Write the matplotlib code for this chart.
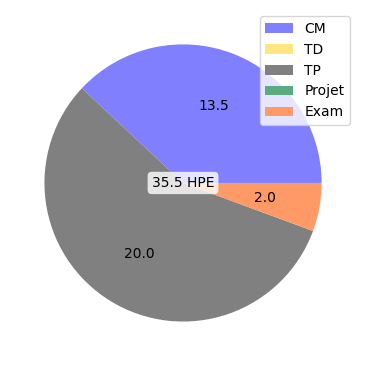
import matplotlib
matplotlib.use("Agg")
import matplotlib.pyplot as plt

# hours per type of teaching
labels = ["CM", "TD", "TP", "Projet", "Exam"]
hours = [13.5, 0.0, 20.0, 0.0, 2.0]
colors = ["#8080ff", "#ffe680", "#808080", "#5aab80", "#ff9966"]
total = sum(hours)


def show_value(pct):
    v = pct * total / 100.0
    return "%.1f" % v if v > 0 else ""


fig = plt.figure(figsize=(3.66, 3.66), dpi=100)
ax = fig.add_axes([0.0836, 0.0836, 0.833, 0.833])

wedges, _, _ = ax.pie(hours, colors=colors, autopct=show_value,
                      startangle=0, counterclock=True)
ax.set_aspect("equal")
ax.set_xlim(-1.1, 1.1)
ax.set_ylim(-1.1, 1.1)

ax.text(0, 0, "%.1f HPE" % total, ha="center", va="center", fontsize=10,
        bbox=dict(boxstyle="round", facecolor="white", edgecolor="none", alpha=0.8))

fig.legend(wedges, labels, loc="upper right",
           bbox_to_anchor=(0.956, 0.956), borderaxespad=0)

fig.savefig("out.png", dpi=100)
